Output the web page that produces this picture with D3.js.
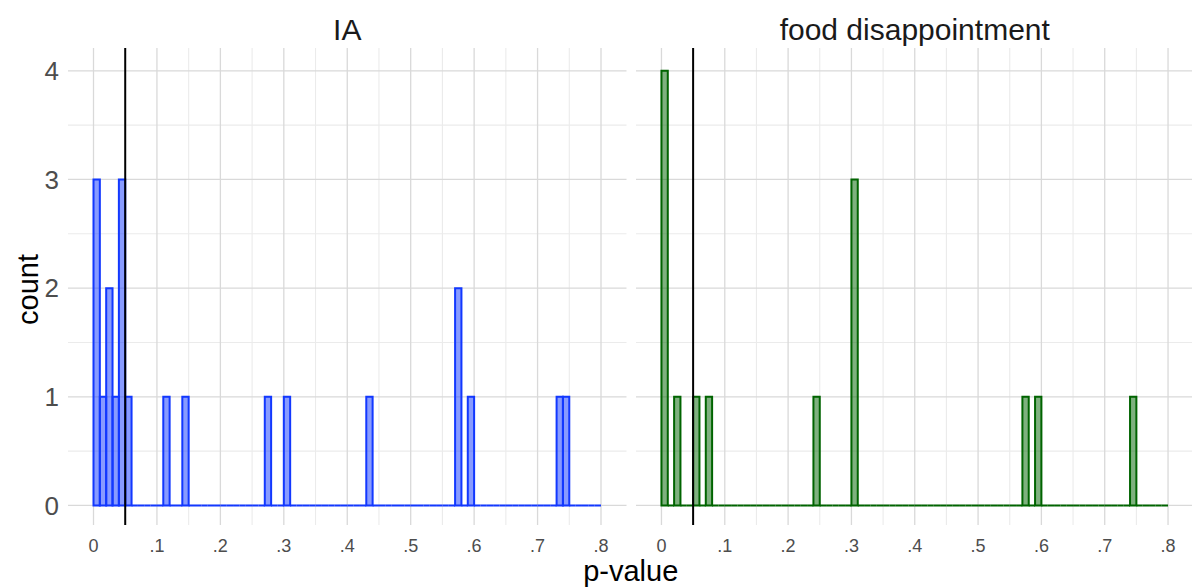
<!DOCTYPE html>
<html>
<head>
<meta charset="utf-8">
<script src="https://cdn.jsdelivr.net/npm/d3@7"></script>
<style>
  html, body { margin: 0; padding: 0; background: #fff; }
  svg { display: block; font-family: "Liberation Sans", Arial, Helvetica, sans-serif; }
</style>
</head>
<body>
<svg id="chart" width="1192" height="587"></svg>
<script>
// ---- data (histogram, binwidth 0.01, bins start at index*0.01) ----
const panelTitles = ["IA", "food disappointment"];
const binWidth = 0.01;
const binCountTotal = 80;               // bins from 0 to 0.8
const iaBinIndex   = [0, 1, 2, 3, 4, 5, 11, 14, 27, 30, 43, 57, 59, 73, 74];
const iaCounts     = [3, 1, 2, 1, 3, 1, 1,  1,  1,  1,  1,  2,  1,  1,  1];
const foodBinIndex = [0, 2, 5, 7, 24, 30, 57, 59, 74];
const foodCounts   = [4, 1, 1, 1, 1,  3,  1,  1,  1];
const cutoff = 0.05;
const xTicks = [0, 0.1, 0.2, 0.3, 0.4, 0.5, 0.6, 0.7, 0.8];
const xTickLabels = ["0", ".1", ".2", ".3", ".4", ".5", ".6", ".7", ".8"];
const xMinor = [0.05, 0.15, 0.25, 0.35, 0.45, 0.55, 0.65, 0.75];
const yTicks = [0, 1, 2, 3, 4];
const yMinor = [0.5, 1.5, 2.5, 3.5];
const seriesColors = ["#1238ff", "#006400"];

// ---- layout ----
const svg = d3.select("#chart");
const panelTop = 48, panelBottom = 525;
const panels = [
  { x0: 68,  x1: 626.5, idx: iaBinIndex,   cnt: iaCounts },
  { x0: 636, x1: 1193.5, idx: foodBinIndex, cnt: foodCounts }
];
const y = d3.scaleLinear().domain([-0.18, 4.21]).range([panelBottom, panelTop]);

panels.forEach((p, pi) => {
  const x = d3.scaleLinear().domain([-0.0402, 0.8402]).range([p.x0, p.x1]);
  const g = svg.append("g");

  // minor grid
  g.selectAll(".xminor").data(xMinor).join("line")
    .attr("x1", d => x(d)).attr("x2", d => x(d))
    .attr("y1", panelTop).attr("y2", panelBottom)
    .attr("stroke", "#ebebeb").attr("stroke-width", 1.1);
  g.selectAll(".yminor").data(yMinor).join("line")
    .attr("x1", p.x0).attr("x2", p.x1)
    .attr("y1", d => y(d)).attr("y2", d => y(d))
    .attr("stroke", "#ebebeb").attr("stroke-width", 1.1);
  // major grid
  g.selectAll(".xmajor").data(xTicks).join("line")
    .attr("x1", d => x(d)).attr("x2", d => x(d))
    .attr("y1", panelTop).attr("y2", panelBottom)
    .attr("stroke", "#d9d9d9").attr("stroke-width", 1.3);
  g.selectAll(".ymajor").data(yTicks).join("line")
    .attr("x1", p.x0).attr("x2", p.x1)
    .attr("y1", d => y(d)).attr("y2", d => y(d))
    .attr("stroke", "#d9d9d9").attr("stroke-width", 1.3);

  // bins (all 80, including empty ones)
  const countMap = new Map(p.idx.map((b, i) => [b, p.cnt[i]]));
  const bins = d3.range(binCountTotal).map(i => ({
    x0: i * binWidth, x1: (i + 1) * binWidth, count: countMap.get(i) || 0
  }));
  const col = seriesColors[pi];
  g.selectAll(".bar").data(bins).join("path")
    .attr("d", d => {
      const xa = x(d.x0), xb = x(d.x1), ya = y(0), yb = y(d.count);
      return `M${xa},${ya}L${xa},${yb}L${xb},${yb}L${xb},${ya}Z`;
    })
    .attr("fill", col).attr("fill-opacity", 0.5)
    .attr("stroke", col).attr("stroke-width", 2)
    .attr("stroke-linejoin", "miter");

  // cutoff line
  g.append("line")
    .attr("x1", x(cutoff)).attr("x2", x(cutoff))
    .attr("y1", panelTop).attr("y2", panelBottom)
    .attr("stroke", "#000").attr("stroke-width", 2);

  // x tick labels
  g.selectAll(".xl").data(xTicks).join("text")
    .attr("x", d => x(d)).attr("y", 552)
    .attr("text-anchor", "middle")
    .attr("font-size", 18).attr("fill", "#4d4d4d")
    .text((d, i) => xTickLabels[i]);

  // panel title
  g.append("text")
    .attr("x", (p.x0 + p.x1) / 2).attr("y", 40)
    .attr("text-anchor", "middle")
    .attr("font-size", 30).attr("fill", "#1a1a1a")
    .text(panelTitles[pi]);

  // y tick labels only for the first panel
  if (pi === 0) {
    g.selectAll(".yl").data(yTicks).join("text")
      .attr("x", 59).attr("y", d => y(d))
      .attr("dy", "0.36em")
      .attr("text-anchor", "end")
      .attr("font-size", 26).attr("fill", "#4d4d4d")
      .text(d => d);
  }
});

// axis titles
svg.append("text")
  .attr("transform", `translate(38, ${(panelTop + panelBottom) / 2 + 3}) rotate(-90)`)
  .attr("text-anchor", "middle")
  .attr("font-size", 29).attr("fill", "#000")
  .text("count");
svg.append("text")
  .attr("x", (68 + 1193.5) / 2).attr("y", 581)
  .attr("text-anchor", "middle")
  .attr("font-size", 29).attr("fill", "#000")
  .text("p-value");
</script>
</body>
</html>
